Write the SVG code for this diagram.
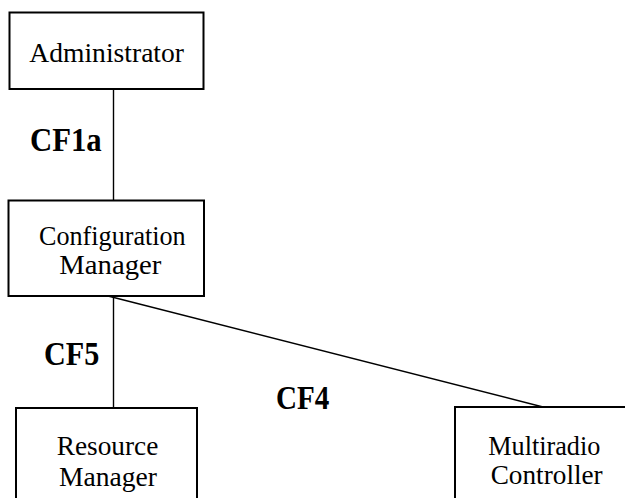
<svg xmlns="http://www.w3.org/2000/svg" width="625" height="498" viewBox="0 0 625 498">
<style>
.box{fill:#fff;stroke:#000;stroke-width:2}
.t{font-family:'Liberation Serif','Times New Roman',serif;font-size:28px;fill:#000}
.lb{font-family:'Liberation Serif','Times New Roman',serif;font-size:33px;font-weight:bold;fill:#000}
.c{stroke:#000;stroke-width:1.4;fill:none}
</style>
<rect width="625" height="498" fill="#fff"/>
<g id="connectors">
<line class="c" x1="113.5" y1="89" x2="113.5" y2="200.5"/>
<line class="c" x1="113.5" y1="296" x2="113.5" y2="408"/>
<line class="c" x1="108" y1="296" x2="543" y2="407"/>
<text class="lb" x="30" y="150.7" textLength="71.7" lengthAdjust="spacingAndGlyphs">CF1a</text>
<text class="lb" x="44" y="365" textLength="55.3" lengthAdjust="spacingAndGlyphs">CF5</text>
<text class="lb" x="276" y="409" textLength="53.3" lengthAdjust="spacingAndGlyphs">CF4</text>
</g>
<g id="administrator">
<rect class="box" x="9.5" y="12.5" width="194" height="76.5"/>
<text class="t" x="29.3" y="61.7" textLength="154.7" lengthAdjust="spacingAndGlyphs">Administrator</text>
</g>
<g id="configuration-manager">
<rect class="box" x="8.5" y="200.5" width="195.5" height="95.5"/>
<text class="t" x="39" y="245" textLength="146.7" lengthAdjust="spacingAndGlyphs">Configuration</text>
<text class="t" x="59.3" y="274" textLength="102" lengthAdjust="spacingAndGlyphs">Manager</text>
</g>
<g id="resource-manager">
<rect class="box" x="16" y="408" width="181" height="100"/>
<text class="t" x="56.7" y="455" textLength="101.6" lengthAdjust="spacingAndGlyphs">Resource</text>
<text class="t" x="59" y="486" textLength="98" lengthAdjust="spacingAndGlyphs">Manager</text>
</g>
<g id="multiradio-controller">
<rect class="box" x="455" y="407" width="200" height="100"/>
<text class="t" x="488.3" y="455" textLength="112" lengthAdjust="spacingAndGlyphs">Multiradio</text>
<text class="t" x="490.7" y="484" textLength="112" lengthAdjust="spacingAndGlyphs">Controller</text>
</g>
</svg>
